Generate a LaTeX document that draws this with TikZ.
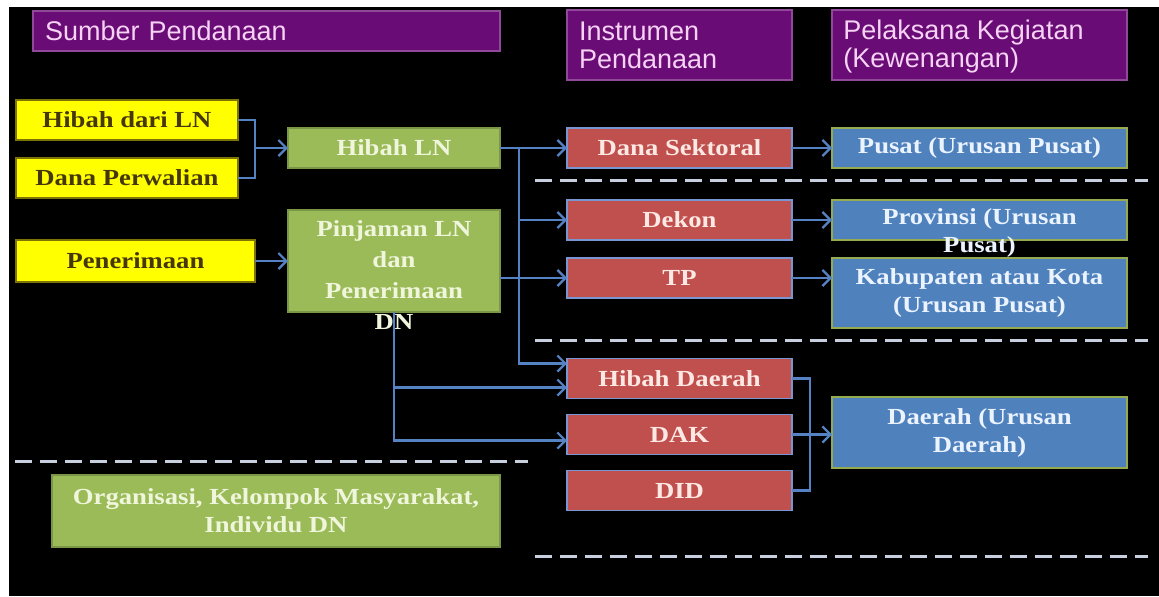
\documentclass[tikz,border=0pt]{standalone}
\usepackage{fontspec}
\setmainfont{Liberation Serif}
\newfontfamily\hdrfont{Liberation Sans}
\newfontfamily\boxfont[FakeStretch=1.16]{Liberation Serif}
\usetikzlibrary{positioning, arrows.meta}
\definecolor{hdrpurple}{RGB}{106,12,118}
\definecolor{hdrtext}{RGB}{246,210,244}
\definecolor{srcyellow}{RGB}{255,255,0}
\definecolor{srctext}{RGB}{70,55,10}
\definecolor{fundgreen}{RGB}{155,187,89}
\definecolor{fundtext}{RGB}{240,246,220}
\definecolor{instred}{RGB}{192,80,77}
\definecolor{instedge}{RGB}{120,150,210}
\definecolor{insttext}{RGB}{253,232,228}
\definecolor{exeblue}{RGB}{79,129,189}
\definecolor{exeedge}{RGB}{150,170,80}
\definecolor{exetext}{RGB}{235,243,255}
\definecolor{linkblue}{RGB}{85,130,195}
\definecolor{sepgray}{RGB}{200,208,224}
\tikzset{
box/.style={shape=rectangle, inner sep=0, outer sep=0, align=center, font=\boxfont\bfseries\fontsize{11.5}{14}\selectfont},
hdr/.style={shape=rectangle, inner xsep=6pt, inner ysep=0, outer sep=0, align=left, fill=hdrpurple, draw=hdrpurple!75!white, line width=0.8pt, text=hdrtext, font=\hdrfont\fontsize{13.5}{14}\selectfont},
src/.style={box, fill=srcyellow, draw=srctext!70!yellow, line width=0.6pt, text=srctext},
fund/.style={box, fill=fundgreen, draw=fundgreen!80!black, line width=0.6pt, text=fundtext},
inst/.style={box, fill=instred, draw=instedge, line width=0.8pt, text=insttext, minimum width=112.5pt, minimum height=20pt},
exe/.style={box, fill=exeblue, draw=exeedge, line width=0.8pt, text=exetext, minimum width=147.5pt},
boxtext/.style={box, text=#1},
link/.style={draw=linkblue, line width=1.1pt},
arr/.style={link, -{Straight Barb[length=4pt, width=8pt]}},
sep/.style={draw=sepgray, line width=1.5pt, dash pattern=on 8.5pt off 4pt}}
\begin{document}
\begin{tikzpicture}[x=0.5pt, y=-0.5pt]
\useasboundingbox (0,0) rectangle (1159,596);
\fill[white] (0,0) rectangle (1159,596);
\fill[black] (9,7) rectangle (1159,596);

% column headers
\node[hdr, text width=221.5pt, minimum height=20pt] (h-src) at (266.5,31) {Sumber Pendanaan};
\node[hdr, text width=100.5pt, minimum height=35pt] (h-inst) at (679.5,45) {Instrumen\\Pendanaan};
\node[hdr, minimum width=147.5pt, minimum height=35pt] (h-exe) at (979.5,45) {};
\node[text=hdrtext, font=\hdrfont\fontsize{13.5}{14}\selectfont, align=left, anchor=west, inner sep=0] (h-exe-t) at (843,47) {Pelaksana Kegiatan\\(Kewenangan)};

% sumber
\node[src, minimum width=111pt, minimum height=20pt] (s-hdl) at (127,120) {Hibah dari LN};
\node[src, minimum width=111pt, minimum height=20pt] (s-dp) at (127,178) {Dana Perwalian};
\node[src, minimum width=119.5pt, minimum height=21pt] (s-pen) at (135.5,261) {Penerimaan};
\node[fund, minimum width=106pt, minimum height=20pt] (f-hln) at (394,148) {Hibah LN};
\node[fund, minimum width=106pt, minimum height=51pt] (f-pin) at (394,261) {};
\node[boxtext=fundtext, font=\boxfont\bfseries\fontsize{11.5}{15.5}\selectfont] (f-pin-t) at (394,275) {Pinjaman LN\\dan\\Penerimaan\\DN};
\node[fund, minimum width=224pt, minimum height=36pt] (f-org) at (276,511) {Organisasi, Kelompok Masyarakat,\\Individu DN};

% instrumen
\node[inst] (i-ds) at (679.5,148) {Dana Sektoral};
\node[inst] (i-dek) at (679.5,220) {Dekon};
\node[inst] (i-tp) at (679.5,278) {TP};
\node[inst] (i-hd) at (679.5,378.5) {Hibah Daerah};
\node[inst] (i-dak) at (679.5,434.5) {DAK};
\node[inst] (i-did) at (679.5,490.5) {DID};

% pelaksana
\node[exe, minimum height=20pt] (e-pus) at (979.5,148) {Pusat (Urusan Pusat)};
\node[exe, minimum height=20pt] (e-prov) at (979.5,220) {};
\node[boxtext=exetext] (e-prov-t) at (979.5,233) {Provinsi (Urusan\\Pusat)};
\node[exe, minimum height=35pt] (e-kab) at (979.5,293) {Kabupaten atau Kota\\(Urusan Pusat)};
\node[exe, minimum height=35.5pt] (e-dae) at (979.5,432.5) {Daerah (Urusan\\Daerah)};

% connectors
\coordinate (j-src) at (255,148);
\coordinate (j-hln) at (519,148);
\coordinate (j-dae) at (810,435);
\draw[link] (s-hdl.east) -| (j-src) |- (s-dp.east);
\draw[arr] (j-src) -- (f-hln.west);
\draw[arr] (s-pen) -- (f-pin);
\draw[arr] (f-hln.east) -- (i-ds.west);
\draw[arr] (j-hln) |- ([yshift=7.5pt]i-hd.west);
\draw[arr] (j-hln |- i-dek.west) -- (i-dek.west);
\draw[arr] (f-pin.east |- i-tp.west) -- (i-tp.west);
\draw[arr] (f-pin.south) |- ([yshift=-4.5pt]i-hd.west);
\draw[arr] (f-pin.south) |- ([yshift=-3pt]i-dak.west);
\draw[link] (i-hd.east) -| (j-dae) |- (i-did.east);
\draw[arr] (i-dak.east) -- (i-dak.east -| e-dae.west);
\draw[arr] (i-ds) -- (e-pus);
\draw[arr] (i-dek) -- (e-prov);
\draw[arr] (i-tp.east) -- (i-tp.east -| e-kab.west);

% separators
\foreach \y in {180,340,556}
  \draw[sep] (535,\y) -- (1148,\y);
\draw[sep] (15,461) -- (528,461);
\end{tikzpicture}
\end{document}
